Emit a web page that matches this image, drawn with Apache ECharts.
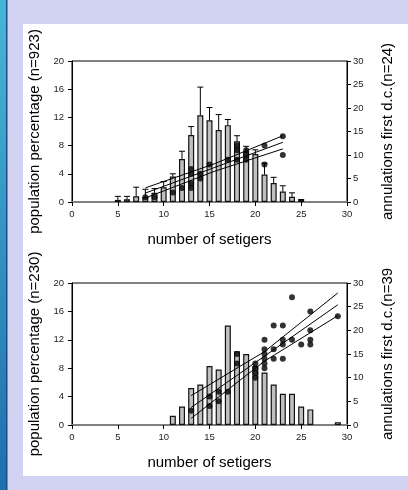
<!DOCTYPE html>
<html><head><meta charset="utf-8">
<script src="https://cdn.jsdelivr.net/npm/echarts@6/dist/echarts.min.js"></script>
<style>html,body{margin:0;padding:0;background:#d2d2f2;}#c{width:408px;height:490px;}</style>
</head><body><div id="c"></div>
<script>
// ---- Top panel data ----
const topSetigers = [5,6,7,8,9,10,11,12,13,14,15,16,17,18,19,20,21,22,23,24,25];
const topPercent  = [0.3,0.4,0.8,0.7,1.3,2.1,3.6,6.1,9.5,12.3,11.6,10.2,10.9,8.6,7.2,6.8,3.9,2.7,1.5,0.75,0.3];
const topErrorTop = [0.8,0.8,2.1,1.8,1.9,2.9,4.0,7.2,10.7,16.3,13.4,12.4,11.7,9.4,7.9,7.4,5.5,3.5,2.3,1.3,0.35];
const topPointX = [8,9,11,12,13,13,13,13,14,14,15,17,18,18,18,19,19,19,21,21,23,23];
const topPointY = [1,1,2,3,7,6,4,3,6,5,8,9,9,11,12,11,10,9,12,8,14,10];
const topLineX  = [8,15.5,23];
const topUpper  = [3.0,8.1,14.1];
const topMiddle = [1.9,7.3,12.7];
const topLower  = [0.85,6.5,11.3];
// ---- Bottom panel data ----
const botSetigers = [11,12,13,14,15,16,17,18,19,20,21,22,23,24,25,26,29];
const botPercent  = [1.3,2.6,5.2,5.7,8.3,7.8,14.0,10.4,10.0,8.3,7.4,5.7,4.4,4.4,2.6,2.2,0.4];
const botPointX = [13,15,15,16,16,17,18,18,20,20,20,20,21,21,21,21,21,21,22,22,22,23,23,23,23,24,24,25,26,26,26,26,29];
const botPointY = [3,6,4,7,5,7,15,13,13,12,11,10,18,16,15,14,13,12,21,16,14,21,18,17,14,27,18,17,24,20,18,17,23];
const botLineX  = [13,21,29];
const botUpper  = [6.2,15.5,27.9];
const botMiddle = [3.7,14.55,25.4];
const botLower  = [1.4,13.5,23.1];
// ---- texts ----
const xTitle = 'number of setigers';
const topLeftTitle = 'population percentage (n=923)';
const topRightTitle = 'annulations first d.c.(n=24)';
const botLeftTitle = 'population percentage (n=230)';
const botRightTitle = 'annulations first d.c.(n=39';

const FONT = 'Liberation Sans, Arial, sans-serif';
const pairs = (xs, ys) => xs.map((x, i) => [x, ys[i]]);

function axesFor(gi) {
  const xA = {
    gridIndex: gi, type: 'value', min: 0, max: 30, interval: 5,
    axisLine: {show: true, onZero: false, lineStyle: {color: '#808080', width: 2}},
    axisTick: {show: true, length: 4, lineStyle: {color: '#000'}},
    axisLabel: {fontFamily: FONT, fontSize: 9.5, color: '#222', margin: 7},
    splitLine: {show: false},
    name: xTitle, nameLocation: 'middle', nameGap: 30,
    nameTextStyle: {fontFamily: FONT, fontSize: 15, color: '#000'}
  };
  const yL = {
    gridIndex: gi, type: 'value', min: 0, max: 20, interval: 4, position: 'left',
    axisLine: {show: true, lineStyle: {color: '#000'}},
    axisTick: {show: true, length: 4, lineStyle: {color: '#000'}},
    axisLabel: {fontFamily: FONT, fontSize: 9.5, color: '#222', margin: 8},
    splitLine: {show: false},
    name: gi === 0 ? topLeftTitle : botLeftTitle, nameLocation: 'middle', nameGap: 23, nameRotate: 90,
    nameTextStyle: {fontFamily: FONT, fontSize: 15, color: '#000'}
  };
  const yR = {
    gridIndex: gi, type: 'value', min: 0, max: 30, interval: 5, position: 'right',
    axisLine: {show: true, lineStyle: {color: '#000'}},
    axisTick: {show: true, length: 4, lineStyle: {color: '#000'}},
    axisLabel: {fontFamily: FONT, fontSize: 9.5, color: '#222', margin: 6},
    splitLine: {show: false},
    name: gi === 0 ? topRightTitle : botRightTitle, nameLocation: 'middle', nameGap: 33, nameRotate: 90,
    nameTextStyle: {fontFamily: FONT, fontSize: 15, color: '#000'}
  };
  return {xA, yL, yR};
}
const a0 = axesFor(0), a1 = axesFor(1);

function lineSeries(xi, yi, xs, ys) {
  return {type: 'line', xAxisIndex: xi, yAxisIndex: yi, data: pairs(xs, ys), symbol: 'none',
    lineStyle: {color: '#000', width: 1}, z: 5, silent: true, animation: false};
}

const chart = echarts.init(document.getElementById('c'), null, {renderer: 'canvas'});
chart.setOption({
  animation: false,
  backgroundColor: '#d2d2f2',
  graphic: [
    {type: 'rect', left: 0, top: 0, shape: {width: 7, height: 490}, z: -10,
     style: {fill: new echarts.graphic.LinearGradient(0, 0, 0, 1, [{offset: 0, color: '#47b6d6'}, {offset: 1, color: '#1f6fae'}])}},
    {type: 'rect', left: 6, top: 0, shape: {width: 1.5, height: 490}, z: -10, style: {fill: '#1a4f86'}},
    {type: 'rect', left: 23, top: 24, shape: {width: 385, height: 452}, z: -10, style: {fill: '#ffffff'}}
  ],
  grid: [
    {left: 72, top: 61, width: 275, height: 141, show: true, borderColor: '#000', borderWidth: 1, backgroundColor: 'transparent'},
    {left: 72, top: 283, width: 275, height: 142, show: true, borderColor: '#000', borderWidth: 1, backgroundColor: 'transparent'}
  ],
  xAxis: [a0.xA, a1.xA],
  yAxis: [a0.yL, a0.yR, a1.yL, a1.yR],
  series: [
    {type: 'bar', xAxisIndex: 0, yAxisIndex: 0, data: pairs(topSetigers, topPercent), barWidth: 6,
     itemStyle: {color: '#c0c0c0', borderColor: '#111', borderWidth: 1.2}, z: 2},
    {type: 'custom', xAxisIndex: 0, yAxisIndex: 0, data: topSetigers.map((x, i) => [x, topPercent[i], topErrorTop[i]]), z: 3,
     renderItem: function (params, api) {
       const p0 = api.coord([api.value(0), api.value(1)]);
       const p1 = api.coord([api.value(0), api.value(2)]);
       return {type: 'group', children: [
         {type: 'line', shape: {x1: p0[0], y1: p0[1], x2: p1[0], y2: p1[1]}, style: {stroke: '#000', lineWidth: 1}},
         {type: 'line', shape: {x1: p1[0] - 3, y1: p1[1], x2: p1[0] + 3, y2: p1[1]}, style: {stroke: '#000', lineWidth: 1}}
       ]};
     }},
    {type: 'scatter', xAxisIndex: 0, yAxisIndex: 1, data: pairs(topPointX, topPointY), symbol: 'circle', symbolSize: 6,
     itemStyle: {color: '#000'}, z: 6},
    lineSeries(0, 1, topLineX, topUpper),
    lineSeries(0, 1, topLineX, topMiddle),
    lineSeries(0, 1, topLineX, topLower),
    {type: 'bar', xAxisIndex: 1, yAxisIndex: 2, data: pairs(botSetigers, botPercent), barWidth: 6,
     itemStyle: {color: '#c0c0c0', borderColor: '#111', borderWidth: 1.2}, z: 2},
    {type: 'scatter', xAxisIndex: 1, yAxisIndex: 3, data: pairs(botPointX, botPointY), symbol: 'circle', symbolSize: 6,
     itemStyle: {color: '#000'}, z: 6},
    lineSeries(1, 3, botLineX, botUpper),
    lineSeries(1, 3, botLineX, botMiddle),
    lineSeries(1, 3, botLineX, botLower)
  ]
});
</script></body></html>
